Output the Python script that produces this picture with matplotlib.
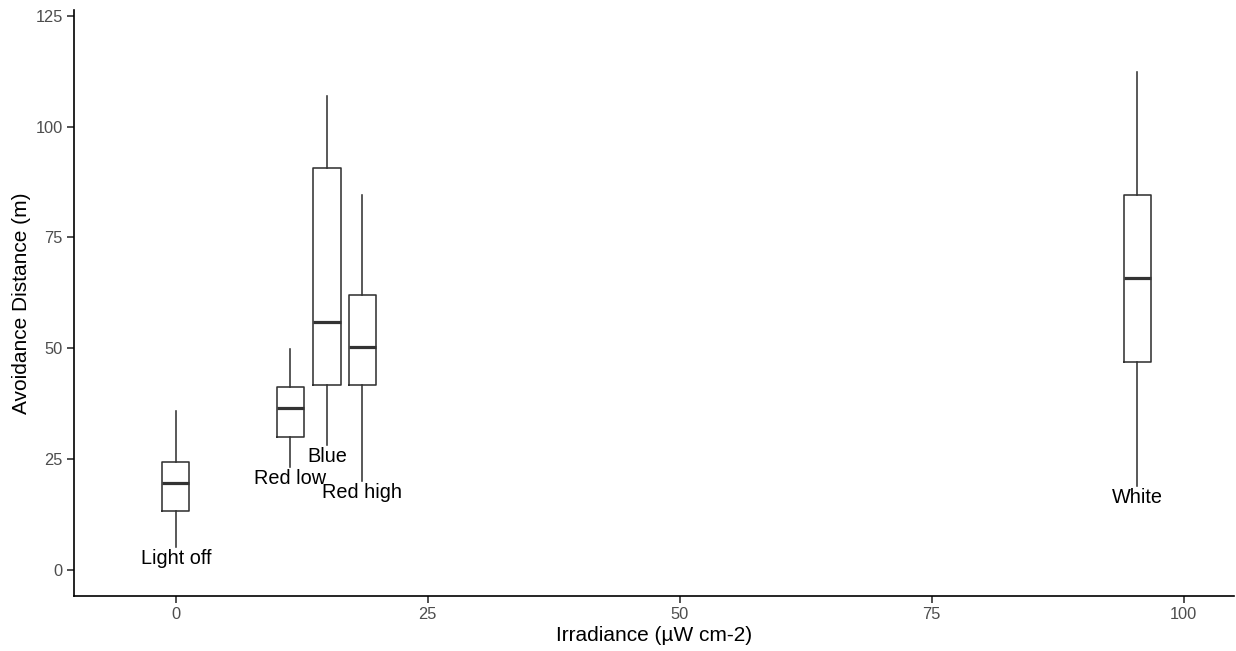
#Boxplots of avoidance distance vs irradiance

#Import modules
import numpy as np
import matplotlib
matplotlib.use("Agg")
import matplotlib.pyplot as plt

#Data
treatments = ["Light off", "Red low", "Blue", "Red high", "White"]
irradiance = [0.0, 11.35, 15.0, 18.5, 95.4]
whisker_low = [5.1, 23.2, 28.2, 20.1, 18.9]
q1 = [13.2, 30.0, 41.8, 41.8, 47.0]
median = [19.7, 36.6, 55.9, 50.3, 65.9]
q3 = [24.4, 41.2, 90.6, 62.1, 84.6]
whisker_high = [35.8, 49.9, 106.9, 84.5, 112.4]

x_ticks = [0, 25, 50, 75, 100]
y_ticks = [0, 25, 50, 75, 100, 125]

plt.rcParams['font.family'] = ['Liberation Sans', 'DejaVu Sans']

#Main Script
if __name__ == "__main__":
    fig = plt.figure(figsize=(12.36, 6.51), dpi=100)
    ax = fig.add_axes([0.0599, 0.0845, 0.9385, 0.9001])

    #Build box stats for bxp
    stats = []
    for i in range(len(treatments)):
        stats.append(dict(label=treatments[i], whislo=whisker_low[i], q1=q1[i],
                          med=median[i], q3=q3[i], whishi=whisker_high[i], fliers=[]))

    line_col = "#333333"
    ax.bxp(stats, positions=irradiance, widths=2.7, showcaps=False, manage_ticks=False,
           boxprops=dict(color=line_col, lw=1.15),
           whiskerprops=dict(color=line_col, lw=1.15),
           medianprops=dict(color=line_col, lw=2.3, solid_capstyle='butt'))

    #Treatment labels under the lower whiskers
    for i in range(len(treatments)):
        ax.annotate(treatments[i], xy=(irradiance[i], whisker_low[i]), xytext=(0, -8.3),
                    textcoords="offset points", ha="center", va="center",
                    fontsize=14.3, color="black")

    #Axis limits and ticks
    ax.set_xlim(-10.1, 105.0)
    ax.set_ylim(-5.9, 126.3)
    ax.set_xticks(x_ticks)
    ax.set_yticks(y_ticks)
    ax.tick_params(axis="both", labelsize=11.8, labelcolor="#4D4D4D", color="#333333",
                   length=5, width=1.2, pad=3)

    #Classic theme: only left and bottom lines
    ax.spines["top"].set_visible(False)
    ax.spines["right"].set_visible(False)
    ax.spines["left"].set_linewidth(1.2)
    ax.spines["bottom"].set_linewidth(1.2)

    ax.set_xlabel("Irradiance (\u00b5W cm-2)", fontsize=15, color="black", labelpad=3)
    ax.set_ylabel("Avoidance Distance (m)", fontsize=15, color="black", labelpad=3)

    fig.savefig("out.png", dpi=100)
